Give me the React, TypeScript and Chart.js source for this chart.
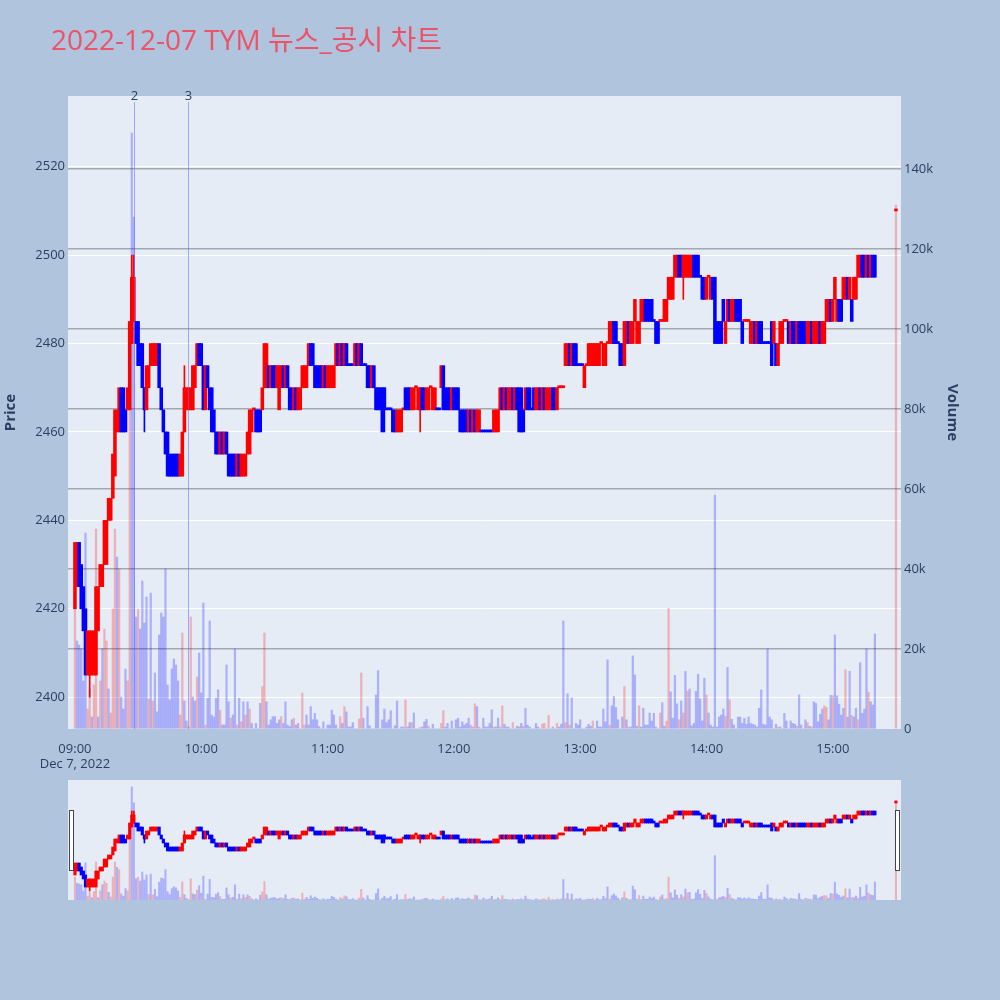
import { useEffect, useRef } from 'react';
import { Chart, registerables } from 'chart.js';

Chart.register(...registerables);

Chart.defaults.font.family = '"Open Sans", "Noto Sans CJK KR", sans-serif';
Chart.defaults.color = '#2a3f5f';

const TITLE = '2022-12-07 TYM 뉴스_공시 차트';
const DATE_LABEL = 'Dec 7, 2022';

// one entry per minute after 09:00 (index = minute), 15:30 is the closing auction
const openPx = [
  2420, 2425, 2435, 2430, 2425, 2420, 2405, 2405, 2405, 2405,
  2405, 2415, 2425, 2425, 2430, 2430, 2440, 2440, 2445, 2450,
  2460, 2460, 2470, 2470, 2465, 2465, 2465, 2480, 2485, 2485,
  2485, 2480, 2480, 2470, 2465, 2470, 2475, 2475, 2475, 2475,
  2480, 2470, 2465, 2460, 2460, 2455, 2455, 2455, 2455, 2455,
  2450, 2450, 2460, 2465, 2465, 2465, 2465, 2470, 2475, 2480,
  2480, 2475, 2465, 2475, 2470, 2470, 2465, 2460, 2460, 2455,
  2460, 2455, 2460, 2455, 2455, 2455, 2455, 2450, 2455, 2450,
  2450, 2450, 2455, 2455, 2460, 2465, 2465, 2465, 2465, 2465,
  2470, 2470, 2475, 2470, 2475, 2475, 2470, 2465, 2470, 2475,
  2470, 2475, 2470, 2470, 2465, 2470, 2465, 2465, 2470, 2470,
  2470, 2475, 2480, 2480, 2475, 2475, 2475, 2475, 2470, 2475,
  2470, 2470, 2470, 2470, 2475, 2480, 2475, 2480, 2475, 2480,
  2475, 2475, 2475, 2475, 2480, 2475, 2480, 2475, 2475, 2475,
  2475, 2470, 2475, 2470, 2470, 2470, 2470, 2470, 2465, 2465,
  2465, 2465, 2465, 2460, 2460, 2460, 2465, 2470, 2470, 2470,
  2465, 2465, 2470, 2465, 2465, 2470, 2470, 2465, 2465, 2470,
  2465, 2465, 2465, 2465, 2470, 2475, 2470, 2470, 2470, 2465,
  2470, 2470, 2470, 2465, 2465, 2465, 2465, 2460, 2465, 2460,
  2465, 2460, 2460, 2460, 2460, 2460, 2460, 2460, 2460, 2460,
  2460, 2460, 2465, 2470, 2465, 2470, 2465, 2465, 2470, 2465,
  2470, 2470, 2470, 2465, 2465, 2470, 2470, 2465, 2470, 2465,
  2465, 2470, 2465, 2470, 2465, 2465, 2465, 2470, 2470, 2465,
  2470, 2470, 2470, 2475, 2475, 2480, 2475, 2480, 2480, 2475,
  2475, 2475, 2470, 2475, 2475, 2475, 2475, 2475, 2475, 2475,
  2480, 2475, 2475, 2480, 2480, 2480, 2485, 2485, 2480, 2480,
  2480, 2475, 2480, 2485, 2480, 2480, 2485, 2480, 2480, 2485,
  2485, 2490, 2490, 2490, 2490, 2485, 2485, 2485, 2485, 2485,
  2485, 2485, 2490, 2490, 2490, 2495, 2495, 2500, 2500, 2495,
  2495, 2495, 2495, 2495, 2500, 2500, 2500, 2495, 2495, 2495,
  2490, 2495, 2490, 2495, 2495, 2485, 2485, 2485, 2490, 2480,
  2485, 2490, 2485, 2485, 2490, 2490, 2490, 2485, 2485, 2485,
  2485, 2480, 2480, 2485, 2480, 2485, 2485, 2480, 2480, 2480,
  2480, 2485, 2480, 2480, 2475, 2480, 2480, 2485, 2485, 2485,
  2480, 2485, 2485, 2480, 2485, 2485, 2485, 2485, 2480, 2480,
  2485, 2480, 2480, 2480, 2485, 2480, 2480, 2485, 2485, 2490,
  2485, 2490, 2485, 2490, 2490, 2490, 2490, 2495, 2490, 2490,
  2490, 2490, 2495, 2495, 2500, 2500, 2495, 2500, 2495, 2500,
  2500, null, null, null, null, null, null, null, null, null,
  2510,
];

const closePx = [
  2435, 2435, 2425, 2420, 2415, 2405, 2415, 2415, 2415, 2415,
  2425, 2425, 2430, 2430, 2440, 2440, 2445, 2445, 2455, 2465,
  2465, 2470, 2460, 2460, 2460, 2470, 2485, 2495, 2495, 2480,
  2475, 2475, 2470, 2465, 2475, 2475, 2480, 2480, 2480, 2480,
  2470, 2465, 2460, 2455, 2450, 2450, 2450, 2450, 2450, 2450,
  2455, 2460, 2470, 2470, 2470, 2470, 2475, 2475, 2480, 2475,
  2475, 2465, 2475, 2470, 2465, 2460, 2460, 2455, 2455, 2460,
  2455, 2460, 2455, 2450, 2450, 2450, 2450, 2455, 2450, 2455,
  2455, 2455, 2460, 2465, 2465, 2465, 2460, 2460, 2460, 2470,
  2480, 2480, 2470, 2475, 2470, 2470, 2475, 2475, 2475, 2470,
  2475, 2470, 2465, 2465, 2470, 2465, 2470, 2470, 2475, 2475,
  2475, 2480, 2475, 2475, 2470, 2470, 2470, 2470, 2475, 2470,
  2475, 2475, 2475, 2475, 2480, 2475, 2480, 2475, 2480, 2475,
  2475, 2475, 2475, 2480, 2475, 2480, 2475, 2475, 2475, 2470,
  2470, 2475, 2470, 2465, 2465, 2465, 2460, 2465, 2465, 2465,
  2465, 2460, 2460, 2465, 2465, 2465, 2465, 2465, 2465, 2465,
  2470, 2470, 2470, 2470, 2470, 2465, 2465, 2470, 2470, 2470,
  2470, 2470, 2465, 2465, 2475, 2465, 2465, 2465, 2465, 2470,
  2465, 2465, 2465, 2460, 2460, 2460, 2460, 2465, 2460, 2465,
  2460, 2465, 2465, 2460, 2460, 2460, 2460, 2460, 2460, 2465,
  2465, 2465, 2470, 2465, 2470, 2465, 2470, 2470, 2465, 2470,
  2465, 2460, 2460, 2460, 2470, 2465, 2465, 2465, 2465, 2470,
  2470, 2465, 2470, 2465, 2470, 2470, 2470, 2465, 2465, 2470,
  2470, 2470, 2470, 2480, 2480, 2475, 2480, 2475, 2475, 2475,
  2475, 2475, 2475, 2475, 2480, 2480, 2480, 2480, 2480, 2480,
  2480, 2480, 2480, 2480, 2485, 2485, 2480, 2480, 2480, 2475,
  2475, 2485, 2485, 2480, 2485, 2485, 2490, 2485, 2485, 2490,
  2490, 2485, 2485, 2485, 2485, 2485, 2480, 2480, 2485, 2485,
  2490, 2490, 2495, 2495, 2495, 2500, 2500, 2495, 2495, 2500,
  2500, 2500, 2500, 2500, 2495, 2495, 2495, 2495, 2490, 2490,
  2495, 2495, 2495, 2490, 2480, 2480, 2480, 2480, 2485, 2485,
  2490, 2485, 2490, 2490, 2485, 2485, 2485, 2480, 2485, 2485,
  2485, 2485, 2485, 2480, 2485, 2480, 2480, 2480, 2480, 2480,
  2480, 2475, 2485, 2475, 2480, 2485, 2485, 2485, 2485, 2480,
  2485, 2480, 2480, 2485, 2480, 2480, 2480, 2480, 2485, 2485,
  2480, 2485, 2485, 2485, 2480, 2485, 2485, 2490, 2490, 2485,
  2490, 2495, 2490, 2485, 2485, 2495, 2495, 2490, 2495, 2485,
  2495, 2495, 2500, 2500, 2495, 2495, 2500, 2495, 2500, 2495,
  2495, null, null, null, null, null, null, null, null, null,
  2510,
];

// candles whose wick reaches past the body
const wickMin = [7, 27, 28, 33, 52, 147, 164, 289];
const wickLow = [2400, 2480, 2485, 2460, 2460, 2460, 2460, 2490];
const wickHigh = [2415, 2500, 2500, 2470, 2475, 2470, 2470, 2500];

// volume per minute, thousands of shares
const volK = [
  30, 22, 21, 20, 12, 49, 5, 10, 3, 11,
  50, 3, 12, 20, 25, 22, 10, 4, 30, 50,
  43, 40, 8, 5, 15, 12, 85, 149, 128, 28,
  30, 25, 37, 26.5, 33, 7.5, 34, 7, 14, 4.3,
  23.5, 29, 28, 40, 11, 7.3, 15, 17.5, 16, 12,
  3.5, 24, 7, 2, 0.6, 28, 8, 7, 13, 19,
  9, 31.5, 1, 7.7, 27, 3.5, 3, 7.7, 9.8, 4.7,
  1, 1, 16, 6.8, 2.7, 3.5, 20, 1, 7.7, 1.8,
  6.8, 3.5, 6.8, 5, 1.4, 0, 1.4, 0, 6.4, 10.6,
  24, 6.8, 1, 2.3, 3.1, 3.1, 1.4, 2.3, 3.1, 1.4,
  6.8, 1, 0.6, 2.3, 2.7, 1, 1.4, 0, 9, 1,
  3.5, 1, 5.6, 2.3, 3.9, 2.3, 0.6, 0, 1.8, 0,
  1, 1, 4.7, 3.5, 1, 0, 3.1, 1.4, 5.6, 4.3,
  0.5, 0.5, 1.6, 0, 0, 2.5, 14, 2.7, 0, 5.6,
  0.8, 0, 0, 8.5, 14.6, 0, 2.3, 5, 1.6, 2.3,
  4.6, 0, 0.8, 7, 0, 0.5, 0.5, 7.3, 0.5, 1.6,
  1.6, 4, 0, 0, 0.4, 0.5, 1.8, 2.4, 0.7, 0,
  1.2, 0, 0, 0, 1.4, 4.6, 0.5, 1.4, 0, 2,
  0, 2.3, 2.7, 0.5, 1.8, 1, 1.4, 2.7, 1, 0.5,
  6.3, 5.6, 0.5, 0, 2.7, 0.5, 0.5, 1.4, 4.8, 0.5,
  0.5, 2.7, 0.5, 5.8, 1.2, 0.5, 0.5, 0, 1.6, 0,
  0.7, 0.5, 1.4, 0.7, 5.2, 1, 0.5, 0, 0, 1.4,
  0.5, 0, 1.2, 1.4, 0, 3.4, 0, 0.5, 0, 1.4,
  0.5, 1.2, 27, 1.6, 8.8, 1, 7.8, 0, 1.4, 1,
  2.3, 0, 0, 0.5, 1.2, 0.7, 2, 0, 2, 0.5,
  0.5, 5, 1.8, 17.3, 1, 5.8, 8.1, 5.4, 2.3, 0,
  3, 10.6, 2.3, 0.5, 0.5, 18.3, 13.5, 0.7, 5.8, 0.5,
  5.2, 1, 1, 4, 2, 3.9, 0.5, 0, 4, 6.6,
  0.7, 2, 30.2, 9.3, 2.7, 13.4, 6.3, 2.3, 7, 4,
  14.4, 9.5, 10, 0.8, 1.4, 9.4, 13.7, 7.5, 2, 12.7,
  8.5, 4, 1, 0.5, 58.5, 0.5, 3, 3.5, 5, 3.2,
  15.4, 7.3, 2.4, 1, 0, 3, 3, 1.4, 2.7, 1.2,
  3, 1.4, 1.2, 1, 0.5, 5.2, 9.8, 1.2, 1, 20,
  3, 2.3, 0, 1.2, 0.5, 0.5, 0, 3.9, 2, 0,
  2, 1.4, 1.2, 0.7, 8.5, 1, 0, 2.3, 1.6, 0.7,
  0.5, 6.8, 6.4, 1.8, 3.7, 5, 5.8, 5.4, 2.3, 8.4,
  8.3, 23.5, 8.3, 6.2, 3.5, 5.2, 14.8, 3, 14.4, 3.4,
  3, 5.2, 2.3, 16.6, 3.9, 5, 20, 9.2, 6.8, 6,
  23.8, null, null, null, null, null, null, null, null, null,
  131,
];

// minutes whose volume bar is red
const volRed = [
  0, 6, 7, 9, 10, 12, 14, 15, 17, 18, 19, 21, 25, 26, 30, 35, 37, 50, 51, 54,
  55, 58, 62, 69, 74, 77, 79, 81, 83, 89, 90, 98, 104, 108, 109, 126, 128, 135,
  136, 157, 160, 164, 168, 174, 175, 188, 190, 192, 199, 202, 203, 208, 213,
  222, 223, 225, 229, 233, 235, 246, 254, 261, 263, 268, 278, 281, 282, 287,
  289, 291, 300, 309, 311, 334, 343, 348, 350, 356, 357, 360, 366, 369, 372,
  377, 390,
];

const newsLabels = ['2', '3'];
const newsMin = [28, 53.7];

const hourTicks = [0, 60, 120, 180, 240, 300, 360];
const hourLabels = ['09:00', '10:00', '11:00', '12:00', '13:00', '14:00', '15:00'];
const priceTicks = [2400, 2420, 2440, 2460, 2480, 2500, 2520];
const volTicks = [0, 20, 40, 60, 80, 100, 120, 140];

const RED = '#ff0000';
const BLUE = '#0000ff';
const RED_VOL = 'rgba(255,0,0,0.25)';
const BLUE_VOL = 'rgba(0,0,255,0.25)';
const PLOT_BG = '#e5ecf6';
const TEXT = '#2a3f5f';

function candleDirections(): boolean[] {
  const up: boolean[] = [];
  let prevC: number | null = null;
  let prevUp = false;
  openPx.forEach((o, i) => {
    const c = closePx[i];
    if (o == null || c == null) {
      up.push(prevUp);
      return;
    }
    let u: boolean;
    if (c !== o) u = c > o;
    else if (prevC != null && c !== prevC) u = c > prevC;
    else u = prevUp;
    up.push(u);
    prevUp = u;
    prevC = c;
  });
  return up;
}

function buildDatasets(bodyW: number, wickW: number, volW: number) {
  const up = candleDirections();
  const idx = openPx.map((o, i) => (o == null ? -1 : i)).filter((i) => i >= 0);
  const vIdx = volK.map((v, i) => (v == null ? -1 : i)).filter((i) => i >= 0);
  return [
    {
      label: 'Volume',
      yAxisID: 'y2',
      data: vIdx.map((i) => ({ x: i, y: volK[i] })),
      backgroundColor: vIdx.map((i) => (volRed.includes(i) ? RED_VOL : BLUE_VOL)),
      barThickness: volW,
      grouped: false,
      order: 3,
    },
    {
      label: 'Wick',
      yAxisID: 'y',
      data: wickMin.map((m, k) => ({ x: m, y: [wickLow[k], wickHigh[k]] })),
      backgroundColor: wickMin.map((m) => (up[m] ? RED : BLUE)),
      barThickness: wickW,
      grouped: false,
      order: 2,
    },
    {
      label: 'Price',
      yAxisID: 'y',
      data: idx.map((i) => ({ x: i, y: [openPx[i], closePx[i]] })),
      backgroundColor: idx.map((i) => (up[i] ? RED : BLUE)),
      barThickness: bodyW,
      minBarLength: 2,
      grouped: false,
      order: 1,
    },
  ];
}

const mainDecor = {
  id: 'mainDecor',
  beforeDraw: (chart: any) => {
    const { ctx, chartArea: a } = chart;
    ctx.save();
    ctx.fillStyle = PLOT_BG;
    ctx.fillRect(a.left, a.top, a.right - a.left, a.bottom - a.top);
    ctx.restore();
  },
  afterDatasetsDraw: (chart: any) => {
    const { ctx, chartArea: a, scales } = chart;
    ctx.save();
    newsMin.forEach((m, k) => {
      const x = Math.round(scales.x.getPixelForValue(m)) + 0.5;
      ctx.strokeStyle = 'rgba(99,110,250,0.55)';
      ctx.lineWidth = 1;
      ctx.beginPath();
      ctx.moveTo(x, a.top + 6);
      ctx.lineTo(x, a.bottom);
      ctx.stroke();
      ctx.fillStyle = TEXT;
      ctx.font = '13px "Open Sans", sans-serif';
      ctx.textAlign = 'center';
      ctx.textBaseline = 'middle';
      ctx.fillText(newsLabels[k], x, a.top);
    });
    ctx.restore();
  },
  afterDraw: (chart: any) => {
    const { ctx } = chart;
    ctx.save();
    ctx.fillStyle = '#ec5368';
    ctx.font = '28px "Open Sans", "Noto Sans CJK KR", sans-serif';
    ctx.textAlign = 'left';
    ctx.textBaseline = 'alphabetic';
    ctx.fillText(TITLE, 51, 50);
    ctx.restore();
  },
};

const sliderDecor = {
  id: 'sliderDecor',
  beforeDraw: (chart: any) => {
    const { ctx, width, height } = chart;
    ctx.save();
    ctx.fillStyle = PLOT_BG;
    ctx.fillRect(0, 0, width, height);
    ctx.restore();
  },
  afterDraw: (chart: any) => {
    const { ctx, width } = chart;
    ctx.save();
    ctx.fillStyle = '#ffffff';
    ctx.strokeStyle = '#444444';
    ctx.lineWidth = 1;
    [1.5, width - 5.5].forEach((x) => {
      ctx.fillRect(x, 30.5, 4, 60);
      ctx.strokeRect(x, 30.5, 4, 60);
    });
    ctx.restore();
  },
};

const tickFont = { size: 13 };

function MainChart() {
  const canvasRef = useRef<HTMLCanvasElement | null>(null);

  useEffect(() => {
    if (!canvasRef.current) return;
    const chart = new Chart(canvasRef.current, {
      type: 'bar',
      data: { datasets: buildDatasets(2.9, 1, 1.6) as any },
      options: {
        animation: false,
        responsive: false,
        maintainAspectRatio: false,
        layout: { padding: { top: 96, left: 0, right: 0, bottom: 0 } },
        plugins: { legend: { display: false }, tooltip: { enabled: false } },
        scales: {
          x: {
            type: 'linear',
            min: -3.3,
            max: 392.4,
            offset: false,
            grid: { display: false },
            border: { display: false },
            afterBuildTicks: (s: any) => {
              s.ticks = hourTicks.map((v) => ({ value: v }));
            },
            afterFit: (s: any) => {
              s.height = 41;
            },
            ticks: {
              autoSkip: false,
              maxRotation: 0,
              padding: 4,
              color: TEXT,
              font: tickFont,
              callback: (v: any) => {
                const label = hourLabels[hourTicks.indexOf(Number(v))];
                return Number(v) === hourTicks[0] ? [label, DATE_LABEL] : label;
              },
            },
          },
          y: {
            position: 'left',
            min: 2392.8,
            max: 2536,
            grid: { color: '#ffffff', lineWidth: 1, drawTicks: false },
            border: { display: false },
            afterBuildTicks: (s: any) => {
              s.ticks = priceTicks.map((v) => ({ value: v }));
            },
            afterFit: (s: any) => {
              s.width = 68;
            },
            ticks: {
              padding: 3,
              color: TEXT,
              font: tickFont,
              callback: (v: any) => String(v),
            },
            title: {
              display: true,
              text: 'Price',
              color: TEXT,
              font: { size: 15, weight: 'bold' },
              padding: { top: 2, bottom: 0 },
            },
          },
          y2: {
            position: 'right',
            min: 0,
            max: 158.3,
            grid: {
              color: (c: any) => (c.tick && c.tick.value === 0 ? 'rgba(0,0,0,0)' : '#a4a7ad'),
              lineWidth: 1.5,
              drawTicks: false,
            },
            border: { display: false },
            afterBuildTicks: (s: any) => {
              s.ticks = volTicks.map((v) => ({ value: v }));
            },
            afterFit: (s: any) => {
              s.width = 99;
            },
            ticks: {
              padding: 3,
              color: TEXT,
              font: tickFont,
              callback: (v: any) => (Number(v) === 0 ? '0' : `${v}k`),
            },
            title: {
              display: true,
              text: 'Volume',
              color: TEXT,
              font: { size: 15, weight: 'bold' },
              padding: { top: 38.6, bottom: 0 },
            },
          },
        },
      } as any,
      plugins: [mainDecor],
    });
    return () => chart.destroy();
  }, []);

  return (
    <canvas
      ref={canvasRef}
      width={1000}
      height={770}
      style={{ position: 'absolute', left: 0, top: 0, width: 1000, height: 770 }}
    />
  );
}

function RangeSlider() {
  const canvasRef = useRef<HTMLCanvasElement | null>(null);

  useEffect(() => {
    if (!canvasRef.current) return;
    const chart = new Chart(canvasRef.current, {
      type: 'bar',
      data: { datasets: buildDatasets(2.5, 1, 1.4) as any },
      options: {
        animation: false,
        responsive: false,
        maintainAspectRatio: false,
        layout: { padding: 0 },
        plugins: { legend: { display: false }, tooltip: { enabled: false } },
        scales: {
          x: { type: 'linear', min: -3.3, max: 392.4, offset: false, display: false },
          y: { min: 2388.75, max: 2538.75, display: false },
          y2: { min: 0, max: 158, display: false },
        },
      } as any,
      plugins: [sliderDecor],
    });
    return () => chart.destroy();
  }, []);

  return (
    <canvas
      ref={canvasRef}
      width={833}
      height={120}
      style={{ position: 'absolute', left: 68, top: 780, width: 833, height: 120 }}
    />
  );
}

export default function App() {
  return (
    <div
      style={{
        position: 'fixed',
        left: 0,
        top: 0,
        width: 1000,
        height: 1000,
        background: '#b0c4de',
        overflow: 'hidden',
      }}
    >
      <MainChart />
      <RangeSlider />
    </div>
  );
}
